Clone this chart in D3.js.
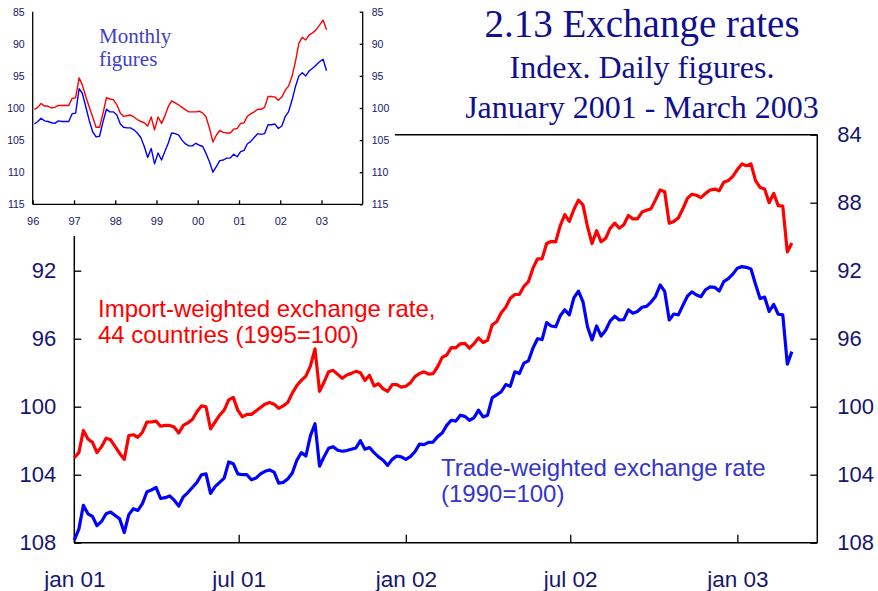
<!DOCTYPE html>
<html>
<head>
<meta charset="utf-8">
<script src="https://cdn.jsdelivr.net/npm/d3@7"></script>
<style>
  body { margin: 0; background: #fff; }
  svg { display: block; }
</style>
</head>
<body>
<svg id="chart" width="878" height="591"></svg>
<script>
// daily readings, one every 5 days from 1 Jan 2001
const DAILY_START = '2001-01-01';
const DAILY_STEP = 5;
const importWeighted = [
  103.0, 102.7, 101.4, 101.9, 102.1, 102.7, 102.35, 101.85, 101.95, 102.35,
  102.75, 103.1, 101.7, 101.65, 101.8, 101.5, 100.9, 100.9, 100.85, 101.15,
  101.1, 101.1, 101.2, 101.55, 101.1, 100.95, 100.75, 100.3, 99.95, 100.0,
  101.3, 100.9, 100.5, 100.2, 99.6, 99.45, 100.2, 100.6, 100.45, 100.45,
  100.25, 100.05, 99.85, 99.75, 99.85, 100.1, 99.95, 99.75, 99.2, 98.75,
  98.45, 98.2, 97.6, 96.6, 99.1, 98.55, 97.94, 97.86, 98.1, 98.33,
  98.13, 98.04, 97.92, 98.0, 98.45, 98.15, 98.78, 98.65, 98.95, 99.1,
  98.7, 98.7, 98.85, 98.8, 98.6, 98.23, 98.05, 97.95, 98.08, 98.05,
  97.65, 97.1, 96.96, 96.53, 96.54, 96.3, 96.27, 96.56, 96.3, 95.95,
  96.22, 96.1, 95.19, 95.0, 94.47, 94.15, 93.62, 93.4, 93.4, 92.92,
  92.64, 91.85, 91.3, 91.3, 90.4, 90.28, 90.3, 89.35, 88.7, 89.1,
  88.4, 87.85, 88.13, 89.4, 90.4, 89.65, 90.3, 90.1, 89.5, 89.2,
  89.5, 89.3, 88.75, 88.95, 88.95, 88.55, 88.45, 88.35, 87.82, 87.25,
  87.36, 89.21, 89.1, 88.9, 88.36, 87.75, 87.5, 87.56, 87.7, 87.45,
  87.25, 87.2, 87.3, 86.8, 86.7, 86.45, 86.05, 85.72, 85.82, 85.72,
  86.7, 87.1, 87.2, 88.0, 87.45, 88.17, 88.2, 90.9, 90.37
];
const tradeWeighted = [
  107.85, 107.2, 105.8, 106.3, 106.45, 107.0, 106.75, 106.3, 106.2, 106.4,
  106.6, 107.4, 106.35, 106.0, 106.1, 105.7, 105.0, 104.9, 104.75, 105.4,
  105.35, 105.25, 105.5, 105.85, 105.3, 105.05, 104.75, 104.45, 104.0, 103.95,
  105.1, 104.7, 104.45, 104.2, 103.25, 103.35, 103.95, 104.0, 104.0, 104.3,
  104.2, 103.95, 103.8, 103.72, 103.85, 104.5, 104.45, 104.25, 103.9, 103.15,
  102.7, 102.9, 101.7, 101.0, 103.5, 102.94, 102.45, 102.35, 102.56, 102.62,
  102.58, 102.5, 102.43, 102.0, 102.5, 102.4, 102.7, 102.95, 103.15, 103.45,
  103.1, 102.9, 102.95, 103.1, 102.94, 102.65, 102.2, 102.23, 102.1, 102.08,
  101.76, 101.55, 101.1, 100.8, 100.85, 100.5, 100.57, 100.8, 100.65, 100.2,
  100.6, 100.5, 99.48, 99.3, 99.12, 98.7, 98.8, 97.95, 98.05, 97.44,
  97.3, 96.55, 96.0, 96.05, 95.05, 95.25, 95.3, 94.65, 94.3, 94.6,
  93.6, 93.2, 93.82, 95.3, 96.07, 95.25, 95.85, 95.5, 94.95, 94.68,
  94.9, 94.88, 94.3, 94.5, 94.4, 94.15, 94.1, 93.85, 93.5, 92.84,
  93.22, 94.9, 94.55, 94.6, 94.04, 93.5, 93.25, 93.43, 93.53, 93.12,
  92.95, 92.98, 93.2, 92.64, 92.47, 92.2, 91.85, 91.76, 91.8, 91.9,
  92.8, 93.64, 93.55, 94.4, 93.98, 94.56, 94.6, 97.5, 96.76
];

// monthly figures Jan 1996 - Feb 2003 (inset)
const MONTHLY_START = '1996-01-15';
const importMonthly = [
  100.2, 99.9, 99.3, 99.7, 99.7, 100.0, 99.9, 99.6, 99.6, 99.6, 99.6, 98.5,
  98.4, 95.3, 96.4, 98.2, 99.8, 101.4, 103.0, 103.0, 100.8, 98.4, 98.6, 98.7,
  99.5, 100.8, 101.3, 101.2, 101.1, 101.4, 101.8, 102.1, 102.3, 102.8, 101.4, 103.4,
  101.4, 102.4, 101.3, 99.8, 98.9, 99.2, 99.5, 99.9, 100.3, 100.6, 100.6, 100.6,
  100.5, 100.8, 101.4, 103.2, 105.3, 104.2, 103.5, 103.8, 103.9, 103.9, 103.3, 103.2,
  102.4, 102.3, 101.3, 100.9, 100.6, 100.2, 100.2, 99.9, 98.2, 98.2, 98.3, 98.8,
  98.3, 97.2, 96.6, 95.1, 92.8, 89.9, 89.0, 89.4, 88.6, 88.3, 87.8, 87.1,
  86.3, 87.8
];
const tradeMonthly = [
  102.5, 102.1, 101.6, 102.0, 102.1, 102.3, 102.4, 102.0, 102.1, 102.1, 102.1, 100.9,
  100.8, 97.0, 97.7, 99.8, 101.9, 103.7, 104.5, 104.4, 102.1, 100.2, 100.6, 100.6,
  101.1, 102.5, 103.0, 103.1, 103.1, 103.4, 103.9, 104.6, 106.0, 107.7, 106.3, 108.7,
  107.0, 108.1, 106.8, 105.5, 103.9, 104.0, 104.2, 105.0, 105.6, 105.9, 105.9, 105.5,
  105.8, 106.0, 107.1, 108.4, 110.0, 109.1, 108.2, 108.1, 107.8, 107.8, 107.2, 107.6,
  106.8, 106.6, 105.6, 105.2, 104.6, 104.0, 104.1, 104.0, 102.6, 102.6, 102.5, 103.2,
  102.8, 101.3, 100.6, 98.8, 96.7, 95.0, 94.5, 95.0, 94.2, 93.8, 93.3, 92.8,
  92.4, 94.2
];

const mainTicksY = [84, 88, 92, 96, 100, 104, 108];
const mainTickDates = ['2001-01-01', '2001-07-01', '2002-01-01', '2002-07-01', '2003-01-01'];
const mainTickLabels = ['jan 01', 'jul 01', 'jan 02', 'jul 02', 'jan 03'];
const insetTicksY = [85, 90, 95, 100, 105, 110, 115];
const insetYears = ['1996', '1997', '1998', '1999', '2000', '2001', '2002', '2003'];
const insetYearLabels = ['96', '97', '98', '99', '00', '01', '02', '03'];

const SANS = "'Liberation Sans', Arial, sans-serif";
const SERIF = "'Liberation Serif', 'Times New Roman', serif";
const NAVY = '#16166e';
const TITLE = '#10108f';

const svg = d3.select('#chart');
const parse = d3.timeParse('%Y-%m-%d');

// ---------- main daily chart ----------
const m = { left: 74.3, right: 817.3, top: 134.7, bottom: 542.7 };
const x = d3.scaleTime()
    .domain([parse('2001-01-01'), parse('2003-03-30')])
    .range([m.left, m.right]);
const y = d3.scaleLinear().domain([84, 108]).range([m.top, m.bottom]);

const start = parse(DAILY_START);
const daily = importWeighted.map((v, i) => ({
    date: d3.timeDay.offset(start, i * DAILY_STEP),
    imp: v,
    trade: tradeWeighted[i]
}));

function styleAxis(g, size){
    g.select('.domain').remove();
    g.attr('font-family', SANS).attr('font-size', size);
    g.selectAll('line').attr('stroke', '#000').attr('stroke-width', 1.3);
    g.selectAll('text').attr('fill', NAVY);
}

svg.append('g')
    .attr('transform', `translate(${m.left},0)`)
    .call(d3.axisLeft(y).tickValues(mainTicksY).tickSizeInner(-7).tickSizeOuter(0)
        .tickPadding(18).tickFormat(d3.format('d')))
    .call(g => styleAxis(g, 22));

svg.append('g')
    .attr('transform', `translate(${m.right},0)`)
    .call(d3.axisRight(y).tickValues(mainTicksY).tickSizeInner(-7).tickSizeOuter(0)
        .tickPadding(20).tickFormat(d3.format('d')))
    .call(g => styleAxis(g, 22));

svg.append('g')
    .attr('transform', `translate(0,${m.bottom})`)
    .call(d3.axisBottom(x).tickValues(mainTickDates.map(parse)).tickSizeInner(-8).tickSizeOuter(0)
        .tickPadding(28).tickFormat((d, i) => mainTickLabels[i]))
    .call(g => styleAxis(g, 22.5));

const frame = svg.append('g').attr('stroke', '#000').attr('stroke-width', 1.5);
frame.append('line').attr('x1', m.left).attr('x2', m.right).attr('y1', m.top).attr('y2', m.top);
frame.append('line').attr('x1', m.left).attr('x2', m.right).attr('y1', m.bottom).attr('y2', m.bottom);
frame.append('line').attr('x1', m.left).attr('x2', m.left).attr('y1', m.top).attr('y2', m.bottom);
frame.append('line').attr('x1', m.right).attr('x2', m.right).attr('y1', m.top).attr('y2', m.bottom);

const line = key => d3.line().x(d => x(d.date)).y(d => y(d[key]));
svg.append('path').datum(daily)
    .attr('fill', 'none').attr('stroke', '#ff0000').attr('stroke-width', 3.2)
    .attr('stroke-linejoin', 'round').attr('d', line('imp'));
svg.append('path').datum(daily)
    .attr('fill', 'none').attr('stroke', '#0000ff').attr('stroke-width', 3.2)
    .attr('stroke-linejoin', 'round').attr('d', line('trade'));

const impLabel = svg.append('text').attr('font-family', SANS).attr('font-size', 24).attr('fill', '#ff0000');
impLabel.append('tspan').attr('x', 98).attr('y', 317).text('Import-weighted exchange rate,');
impLabel.append('tspan').attr('x', 98).attr('y', 343).text('44 countries (1995=100)');

const tradeLabel = svg.append('text').attr('font-family', SANS).attr('font-size', 24).attr('fill', '#3535cc');
tradeLabel.append('tspan').attr('x', 441).attr('y', 476).text('Trade-weighted exchange rate');
tradeLabel.append('tspan').attr('x', 441).attr('y', 502).text('(1990=100)');

// ---------- title ----------
const title = svg.append('g').attr('font-family', SERIF).attr('fill', TITLE).attr('text-anchor', 'middle');
title.append('text').attr('x', 642).attr('y', 37).attr('font-size', 39).text('2.13 Exchange rates');
title.append('text').attr('x', 642).attr('y', 78).attr('font-size', 32).text('Index. Daily figures.');
title.append('text').attr('x', 642).attr('y', 118).attr('font-size', 32).text('January 2001 - March 2003');

// ---------- inset, monthly figures ----------
const inset = svg.append('g');
inset.append('rect').attr('x', 0).attr('y', 0).attr('width', 395).attr('height', 236).attr('fill', '#fff');

const n = { left: 32.7, right: 362.7, top: 11.7, bottom: 204.3 };
const ix = d3.scaleTime().domain([parse('1996-01-01'), parse('2004-01-01')]).range([n.left, n.right]);
const iy = d3.scaleLinear().domain([85, 115]).range([n.top, n.bottom]);

const mStart = parse(MONTHLY_START);
const monthly = importMonthly.map((v, i) => ({
    date: d3.timeMonth.offset(mStart, i),
    imp: v,
    trade: tradeMonthly[i]
}));

inset.append('g')
    .attr('transform', `translate(${n.left},0)`)
    .call(d3.axisLeft(iy).tickValues(insetTicksY).tickSizeInner(0).tickSizeOuter(0).tickPadding(8))
    .call(g => styleAxis(g, 10.5));
inset.append('g')
    .attr('transform', `translate(${n.right},0)`)
    .call(d3.axisRight(iy).tickValues(insetTicksY).tickSizeInner(-3).tickSizeOuter(0).tickPadding(9))
    .call(g => styleAxis(g, 10.5));
inset.append('g')
    .attr('transform', `translate(0,${n.bottom})`)
    .call(d3.axisBottom(ix).tickValues(insetYears.map(d3.timeParse('%Y'))).tickSizeInner(-4).tickSizeOuter(0)
        .tickPadding(13).tickFormat((d, i) => insetYearLabels[i]))
    .call(g => styleAxis(g, 11));

const iframe = inset.append('g').attr('stroke', '#000').attr('stroke-width', 1.3);
iframe.append('line').attr('x1', n.left).attr('x2', n.right).attr('y1', n.bottom).attr('y2', n.bottom);
iframe.append('line').attr('x1', n.left).attr('x2', n.left).attr('y1', n.top).attr('y2', n.bottom);
iframe.append('line').attr('x1', n.right).attr('x2', n.right).attr('y1', n.top).attr('y2', n.bottom);

const iline = key => d3.line().x(d => ix(d.date)).y(d => iy(d[key]));
inset.append('path').datum(monthly)
    .attr('fill', 'none').attr('stroke', '#ff0000').attr('stroke-width', 1.4)
    .attr('stroke-linejoin', 'round').attr('d', iline('imp'));
inset.append('path').datum(monthly)
    .attr('fill', 'none').attr('stroke', '#0000ff').attr('stroke-width', 1.4)
    .attr('stroke-linejoin', 'round').attr('d', iline('trade'));

const mLabel = inset.append('text').attr('font-family', SERIF).attr('font-size', 21).attr('fill', '#4040c8');
mLabel.append('tspan').attr('x', 99).attr('y', 43).text('Monthly');
mLabel.append('tspan').attr('x', 99).attr('y', 66).text('figures');
</script>
</body>
</html>
